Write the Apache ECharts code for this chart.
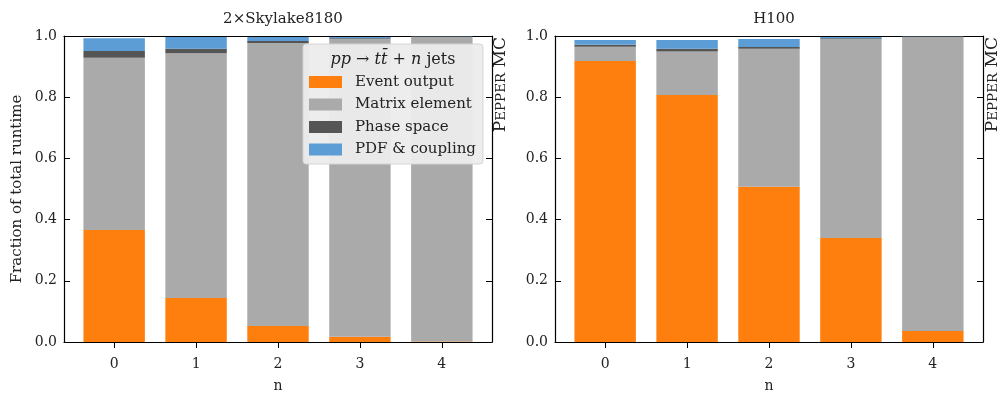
<!DOCTYPE html>
<html>
<head>
<meta charset="utf-8">
<script src="https://cdn.jsdelivr.net/npm/echarts@6/dist/echarts.min.js"></script>
<style>
  html, body { margin: 0; padding: 0; background: #fff; }
  #chart { width: 1000px; height: 394px; }
</style>
</head>
<body>
<div id="chart"></div>
<script>
// jet multiplicity n
var nJets = ['0', '1', '2', '3', '4']
var nTicks = [0, 1, 2, 3, 4]
var seriesNames = ['Event output', 'Matrix element', 'Phase space', 'PDF & coupling']
var colors = ['#ff7f0e', '#aaaaaa', '#555555', '#5b9dd4']

// 2xSkylake8180 (CPU)
var cpuEvent = [0.366, 0.144, 0.052, 0.017, 0.002]
var cpuMatrix = [0.563, 0.800, 0.925, 0.973, 0.995]
var cpuPhase = [0.022, 0.014, 0.007, 0.003, 0.001]
var cpuPdf = [0.042, 0.039, 0.013, 0.004, 0.001]

// H100 (GPU)
var gpuEvent = [0.918, 0.807, 0.507, 0.340, 0.036]
var gpuMatrix = [0.047, 0.142, 0.451, 0.650, 0.961]
var gpuPhase = [0.006, 0.009, 0.006, 0.003, 0.001]
var gpuPdf = [0.016, 0.029, 0.026, 0.004, 0.001]

var FONT = 'DejaVu Serif'
var chart = echarts.init(document.getElementById('chart'))

// frame grids 0,1 (axes, ticks, labels); bar grids 2,3 (category bands, hidden axes)
var frames = [[64, 508], [555, 17]]
var pad = 9.2

function frameX (gi) {
  return [
    {
      type: 'value', gridIndex: gi, position: 'bottom',
      min: -0.6125, max: 4.6125,
      name: 'n', nameLocation: 'middle', nameGap: 37,
      nameTextStyle: { fontFamily: FONT, fontSize: 14, color: '#222' },
      axisLine: { show: true, onZero: false, lineStyle: { color: '#000', width: 1.2 } },
      axisTick: { show: true, inside: false, length: 6, customValues: nTicks, lineStyle: { color: '#000', width: 1 } },
      axisLabel: { show: true, customValues: nTicks, margin: 15, fontFamily: FONT, fontSize: 14, color: '#222' },
      splitLine: { show: false }
    },
    {
      type: 'value', gridIndex: gi, position: 'top',
      min: -0.6125, max: 4.6125,
      axisLine: { show: true, onZero: false, lineStyle: { color: '#000', width: 1.2 } },
      axisTick: { show: false }, axisLabel: { show: false }, splitLine: { show: false }
    }
  ]
}

function frameY (gi, withName) {
  return [
    {
      type: 'value', gridIndex: gi, position: 'left',
      min: 0, max: 1, interval: 0.2,
      name: withName ? 'Fraction of total runtime' : '',
      nameLocation: 'middle', nameGap: 39,
      nameTextStyle: { fontFamily: FONT, fontSize: 15, color: '#222' },
      axisLine: { show: true, onZero: false, lineStyle: { color: '#000', width: 1.2 } },
      axisTick: { show: true, inside: true, length: 6, lineStyle: { color: '#000', width: 1 } },
      axisLabel: { margin: 7, fontFamily: FONT, fontSize: 14, color: '#222',
        formatter: function (v) { return v.toFixed(1) } },
      splitLine: { show: false }
    },
    {
      type: 'value', gridIndex: gi, position: 'right',
      min: 0, max: 1, interval: 0.2,
      axisLine: { show: true, onZero: false, lineStyle: { color: '#000', width: 1.2 } },
      axisTick: { show: true, inside: true, length: 6, lineStyle: { color: '#000', width: 1 } },
      axisLabel: { show: false }, splitLine: { show: false }
    }
  ]
}

function barX (gi) {
  return {
    type: 'category', gridIndex: gi, data: nJets, boundaryGap: true,
    axisLine: { show: false }, axisTick: { show: false }, axisLabel: { show: false }, splitLine: { show: false }
  }
}

function barY (gi) {
  return {
    type: 'value', gridIndex: gi, min: 0, max: 1,
    axisLine: { show: false }, axisTick: { show: false }, axisLabel: { show: false }, splitLine: { show: false }
  }
}

function barSeries (axisIdx, stackName, data) {
  return data.map(function (vals, k) {
    return {
      name: seriesNames[k], type: 'bar', stack: stackName,
      xAxisIndex: axisIdx, yAxisIndex: axisIdx,
      barWidth: '75%', itemStyle: { color: colors[k] },
      data: vals, animation: false
    }
  })
}

function pepperLabel (x) {
  return {
    type: 'text', x: x, y: 37, rotation: Math.PI / 2,
    style: {
      text: '{a|P}{b|EPPER}{a| MC}', align: 'right', verticalAlign: 'middle',
      fill: '#222',
      rich: {
        a: { fontFamily: FONT, fontSize: 17, fill: '#222' },
        b: { fontFamily: FONT, fontSize: 13.5, fill: '#222' }
      }
    }
  }
}

function gridBox (left, right) {
  return { left: left, right: right, top: 36, bottom: 52, containLabel: false, outerBoundsMode: 'none' }
}

chart.setOption({
  animation: false,
  grid: [
    gridBox(frames[0][0], frames[0][1]),
    gridBox(frames[1][0], frames[1][1]),
    gridBox(frames[0][0] + pad, frames[0][1] + pad),
    gridBox(frames[1][0] + pad, frames[1][1] + pad)
  ],
  title: [
    { text: '2×Skylake8180', left: 278, top: 7, textAlign: 'center',
      textStyle: { fontFamily: FONT, fontSize: 15, fontWeight: 'normal', color: '#222' } },
    { text: 'H100', left: 769, top: 7, textAlign: 'center',
      textStyle: { fontFamily: FONT, fontSize: 15, fontWeight: 'normal', color: '#222' } }
  ],
  legend: {
    data: seriesNames, orient: 'vertical', left: 303, top: 44,
    padding: [29.5, 7, 6, 6],
    itemWidth: 33, itemHeight: 12, itemGap: 5.5, icon: 'rect',
    backgroundColor: 'rgba(236,236,236,0.95)', borderColor: '#d4d4d4', borderWidth: 1, borderRadius: 3,
    textStyle: { fontFamily: FONT, fontSize: 15, color: '#222', lineHeight: 17, padding: [0, 0, 0, 8] },
    selectedMode: false
  },
  graphic: [
    {
      type: 'text', x: 393, y: 60, z: 100,
      style: {
        text: '{i|pp} → {i|tt\u0304} + {i|n} jets', align: 'center', verticalAlign: 'middle',
        rich: {
          i: { fontFamily: FONT, fontSize: 16, fontStyle: 'italic', fill: '#222' }
        },
        fontFamily: FONT, fontSize: 16, fill: '#222'
      }
    },
    pepperLabel(501),
    pepperLabel(993)
  ],
  // xAxis 0..3 frames, 4..5 bar bands
  xAxis: frameX(0).concat(frameX(1), [barX(2), barX(3)]),
  yAxis: frameY(0, true).concat(frameY(1, false), [barY(2), barY(3)]),
  series: barSeries(4, 'cpu', [cpuEvent, cpuMatrix, cpuPhase, cpuPdf])
    .concat(barSeries(5, 'gpu', [gpuEvent, gpuMatrix, gpuPhase, gpuPdf]))
})
</script>
</body>
</html>
